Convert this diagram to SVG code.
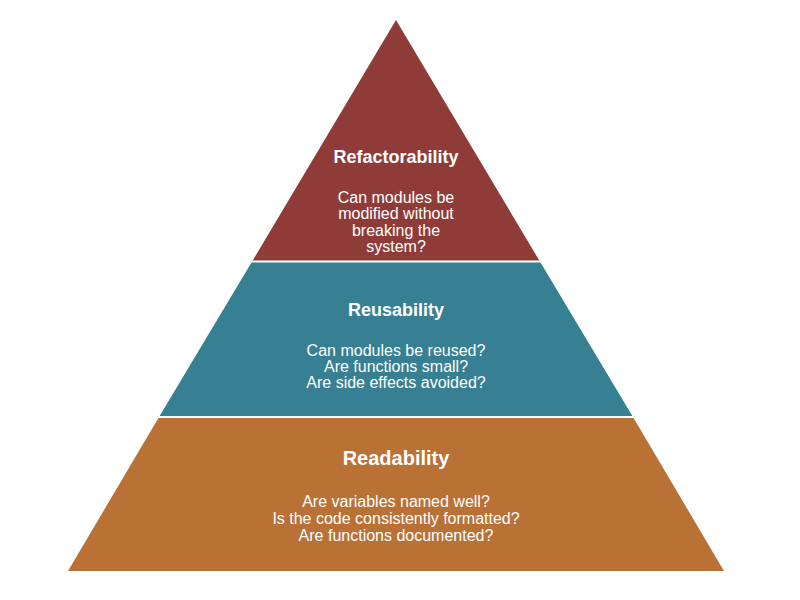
<svg xmlns="http://www.w3.org/2000/svg" width="800" height="600" viewBox="0 0 800 600">
  <style>
    .sep { stroke: #ffffff; stroke-width: 2; }
    .title { font-family: "Liberation Sans", Arial, sans-serif; font-weight: bold; fill: #ffffff; text-anchor: middle; }
    .body { font-family: "Liberation Sans", Arial, sans-serif; font-size: 16px; fill: #ffffff; text-anchor: middle; }
  </style>
  <rect x="0" y="0" width="800" height="600" fill="#ffffff"/>
  <g id="level-refactorability">
    <polygon fill="#8f3c38" points="396,20 540.2,262 251.8,262"/>
    <text class="title" x="396" y="162.5" font-size="18">Refactorability</text>
    <text class="body" x="396" y="202.5">Can modules be</text>
    <text class="body" x="396" y="219">modified without</text>
    <text class="body" x="396" y="235.5">breaking the</text>
    <text class="body" x="396" y="252">system?</text>
  </g>
  <g id="level-reusability">
    <polygon fill="#377f93" points="251.8,262 540.2,262 633,417 159,417"/>
    <text class="title" x="396" y="315.5" font-size="18">Reusability</text>
    <text class="body" x="396" y="356">Can modules be reused?</text>
    <text class="body" x="396" y="372">Are functions small?</text>
    <text class="body" x="396" y="388">Are side effects avoided?</text>
  </g>
  <g id="level-readability">
    <polygon fill="#b97136" points="159,417 633,417 724,571 68,571"/>
    <text class="title" x="396" y="464.5" font-size="20">Readability</text>
    <text class="body" x="396" y="506.5">Are variables named well?</text>
    <text class="body" x="396" y="524">Is the code consistently formatted?</text>
    <text class="body" x="396" y="541">Are functions documented?</text>
  </g>
  <g id="separators">
    <line class="sep" x1="240" y1="261.5" x2="552" y2="261.5"/>
    <line class="sep" x1="150" y1="417" x2="642" y2="417"/>
  </g>
</svg>
